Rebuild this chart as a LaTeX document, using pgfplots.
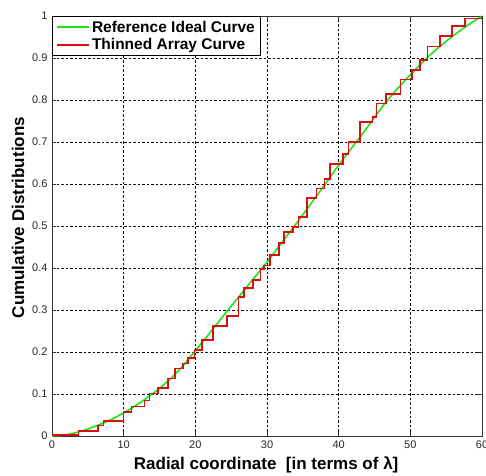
\documentclass[border=0pt]{standalone}
\usepackage{pgfplots}
\pgfplotsset{compat=1.18}
\usepackage{fontspec}
\setmainfont{Liberation Sans}
\definecolor{idealgreen}{rgb}{0.1,0.9,0.1}
\definecolor{thinred}{rgb}{0.86,0.05,0.05}
\begin{document}
\begin{tikzpicture}
\useasboundingbox (-52pt,-39pt) rectangle (434pt,436pt);
\begin{axis}[
  scale only axis, width=430pt, height=420pt,
  xmin=0, xmax=60, ymin=0, ymax=1,
  xtick={0,10,20,30,40,50,60},
  ytick={0,0.1,0.2,0.3,0.4,0.5,0.6,0.7,0.8,0.9,1},
  yticklabels={0,0.1,0.2,0.3,0.4,0.5,0.6,0.7,0.8,0.9,1},
  grid=major,
  grid style={black, line width=0.5pt, dash pattern=on 2.5pt off 2pt},
  axis line style={black!80, line width=0.9pt},
  tick align=inside, major tick length=4pt,
  tick style={black!80, line width=0.6pt},
  /pgf/number format/assume math mode=true,
  ticklabel style={font=\fontsize{11}{13}\selectfont, text=black!85},
  xticklabel style={yshift=-1pt},
  yticklabel style={xshift=-1pt},
  xlabel={Radial coordinate\ \ [in terms of λ]},
  ylabel={Cumulative Distributions},
  label style={font=\bfseries\fontsize{17}{20}\selectfont},
  xlabel style={at={(axis description cs:0.498,-0.069)}, anchor=center},
  ylabel style={at={(axis description cs:-0.079,0.52)}, anchor=center, rotate=0},
  legend style={at={(0,1)}, anchor=north west, draw=black, line width=0.8pt,
    font=\bfseries\fontsize{15.5}{19}\selectfont, fill=white,
    inner xsep=4pt, inner ysep=2.5pt, row sep=1pt, cells={anchor=west}},
  legend image code/.code={\draw[#1] (0pt,0pt) -- (32pt,0pt);},
]
\addplot[idealgreen, line width=1.6pt, smooth] coordinates {
 (0,0) (2,0.003) (4,0.011) (6,0.023) (8,0.037) (10,0.055) (12,0.076)
 (14,0.1) (16,0.128) (18,0.162) (20,0.203) (22,0.245) (24,0.288)
 (26,0.33) (28,0.372) (30,0.414) (32,0.459) (34,0.504) (36,0.55)
 (38,0.597) (40,0.645) (42,0.69) (44,0.735) (46,0.782) (48,0.823)
 (50,0.86) (52,0.895) (54,0.926) (56,0.953) (58,0.978) (60,1.0)
};
\addlegendentry{Reference Ideal Curve}
\addplot[thinred, line width=1.6pt, const plot] coordinates {
 (0,0.002) (3.67,0.012) (6.46,0.025) (7.16,0.036) (9.95,0.057)
 (11.1,0.07) (12.9,0.085) (13.6,0.101) (14.8,0.115) (16.2,0.137)
 (17.2,0.161) (18.3,0.173) (19.0,0.186) (19.9,0.205) (20.9,0.228)
 (22.5,0.262) (24.4,0.286) (26.0,0.331) (26.8,0.352) (28.05,0.371)
 (29.1,0.397) (29.6,0.406) (30.4,0.431) (31.7,0.459) (32.4,0.486)
 (33.6,0.498) (34.4,0.522) (35.6,0.567) (36.9,0.589) (38.0,0.612)
 (38.8,0.647) (40.6,0.671) (41.35,0.70) (43.0,0.747) (44.7,0.76)
 (45.3,0.792) (46.6,0.814) (48.6,0.849) (50.2,0.871) (51.35,0.895)
 (52.4,0.927) (54.1,0.952) (55.8,0.976) (57.6,0.994) (60,1.0)
};
\addlegendentry{Thinned Array Curve}
\end{axis}
\end{tikzpicture}
\end{document}
